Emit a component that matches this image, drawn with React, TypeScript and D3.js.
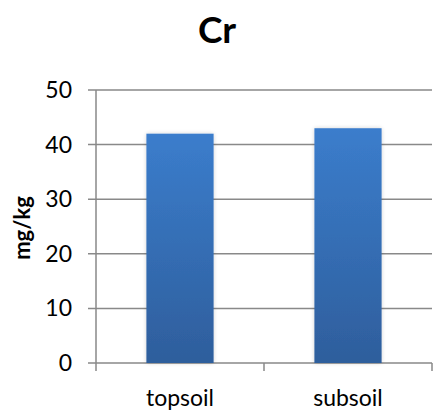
import React from "react";
import * as d3 from "d3";

const categories = ["topsoil", "subsoil"];
const values = [42, 43];
const yTicks = [0, 10, 20, 30, 40, 50];
const title = "Cr";
const yLabel = "mg/kg";

const W = 433;
const H = 411;
const margin = { left: 96, right: 1, top: 90, bottom: 48 };
const FONT = "Lato, 'Open Sans', sans-serif";

export default function App() {
  const x = d3
    .scaleBand<string>()
    .domain(categories)
    .range([margin.left, W - margin.right])
    .paddingInner(0.6)
    .paddingOuter(0.3);
  const y = d3.scaleLinear().domain([0, 50]).range([H - margin.bottom, margin.top]);
  const x0 = margin.left;
  const x1 = W - margin.right;
  const bandEdges = [x0, x0 + (x1 - x0) / 2, x1];

  return (
    <div style={{ position: "fixed", left: 0, top: 0 }}>
      <svg width={W} height={H} style={{ display: "block", background: "#fff" }}>
        <defs>
          <linearGradient id="barFill" x1="0" y1="0" x2="0" y2="1">
            <stop offset="0" stopColor="#3b7dcc" />
            <stop offset="1" stopColor="#2e5e9c" />
          </linearGradient>
          <filter id="barShadow" x="-20%" y="-10%" width="140%" height="120%">
            <feGaussianBlur in="SourceAlpha" stdDeviation="2" />
            <feComponentTransfer>
              <feFuncA type="linear" slope="0.18" />
            </feComponentTransfer>
            <feMerge>
              <feMergeNode />
              <feMergeNode in="SourceGraphic" />
            </feMerge>
          </filter>
        </defs>

        <text
          x={217}
          y={43}
          textAnchor="middle"
          fontFamily={FONT}
          fontWeight="bold"
          fontSize={37}
          fill="#000"
        >
          {title}
        </text>

        {yTicks.map((t) => (
          <g key={t}>
            <line
              x1={x0 - 8}
              x2={x1}
              y1={y(t)}
              y2={y(t)}
              stroke="#898989"
              strokeWidth={1.5}
            />
            <text
              x={72}
              y={y(t)}
              dy="0.35em"
              textAnchor="end"
              fontFamily={FONT}
              fontSize={23}
              fill="#000"
            >
              {t}
            </text>
          </g>
        ))}

        <line x1={x0} x2={x0} y1={y(50)} y2={y(0)} stroke="#898989" strokeWidth={1.5} />

        {bandEdges.map((bx, i) => (
          <line
            key={i}
            x1={bx}
            x2={bx}
            y1={y(0)}
            y2={y(0) + 8}
            stroke="#898989"
            strokeWidth={1.5}
          />
        ))}

        {categories.map((c, i) => (
          <rect
            key={c}
            x={x(c)}
            y={y(values[i])}
            width={x.bandwidth()}
            height={y(0) - y(values[i])}
            fill="url(#barFill)"
            filter="url(#barShadow)"
          />
        ))}

        {categories.map((c) => (
          <text
            key={c}
            x={(x(c) ?? 0) + x.bandwidth() / 2}
            y={406}
            textAnchor="middle"
            fontFamily={FONT}
            fontSize={23}
            fill="#000"
          >
            {c}
          </text>
        ))}

        <text
          transform={`translate(30, 228) rotate(-90)`}
          textAnchor="middle"
          fontFamily={FONT}
          fontWeight="bold"
          fontSize={22}
          fill="#000"
        >
          {yLabel}
        </text>
      </svg>
    </div>
  );
}
